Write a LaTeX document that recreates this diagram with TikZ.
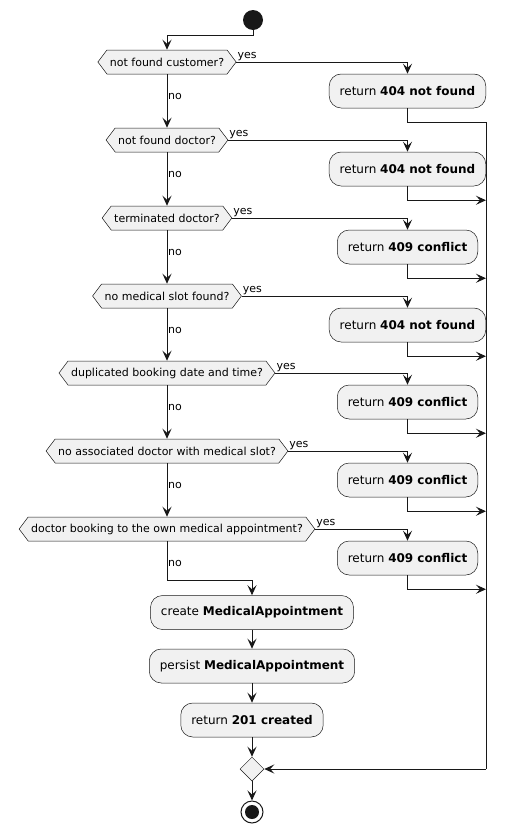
\documentclass[tikz,border=0pt]{standalone}
\usepackage{fontspec}
\setmainfont{DejaVu Sans}
\usetikzlibrary{shapes.symbols,shapes.geometric,arrows.meta}
\definecolor{fillc}{HTML}{F1F1F1}
\definecolor{linec}{HTML}{181818}
\begin{document}
\begin{tikzpicture}[x=1pt,y=-1pt,
  act/.style={draw=linec, line width=0.5pt, fill=fillc, rounded corners=12pt,
    minimum height=34pt, inner xsep=10.5pt, inner ysep=0pt,
    font=\fontsize{12}{14}\selectfont},
  hexa/.style={signal, signal to=west and east, signal pointer angle=106,
    draw=linec, line width=0.5pt, fill=fillc, minimum height=24pt,
    inner xsep=3pt, inner ysep=0pt, font=\fontsize{11}{13}\selectfont},
  flow/.style={draw=linec, line width=1pt, -{Stealth[length=10pt,width=9pt,inset=4pt]}},
  wire/.style={draw=linec, line width=1pt},
  lbl/.style={font=\fontsize{11}{13}\selectfont, inner sep=1pt, text=black}
]
\useasboundingbox (0,0) rectangle (506,833);
\coordinate (rail) at (486,0);

\node[circle, fill=linec, minimum size=20pt, inner sep=0pt] (start) at (253,20) {};

\node[hexa] (d1) at (167,62) {not found customer?};
\node[act] (b1) at (407.5,91) {return \textbf{404 not found}};
\node[hexa] (d2) at (167,140) {not found doctor?};
\node[act] (b2) at (407.5,169) {return \textbf{404 not found}};
\node[hexa] (d3) at (167,218) {terminated doctor?};
\node[act] (b3) at (407.5,247) {return \textbf{409 conflict}};
\node[hexa] (d4) at (167,296) {no medical slot found?};
\node[act] (b4) at (407.5,325) {return \textbf{404 not found}};
\node[hexa] (d5) at (167,373) {duplicated booking date and time?};
\node[act] (b5) at (407.5,402) {return \textbf{409 conflict}};
\node[hexa] (d6) at (167,451) {no associated doctor with medical slot?};
\node[act] (b6) at (407.5,480) {return \textbf{409 conflict}};
\node[hexa] (d7) at (167,529) {doctor booking to the own medical appointment?};
\node[act] (b7) at (407.5,558) {return \textbf{409 conflict}};

\node[act] (create) at (252,612.5) {create \textbf{MedicalAppointment}};
\node[act] (persist) at (252,666) {persist \textbf{MedicalAppointment}};
\node[act] (ret) at (252,720) {return \textbf{201 created}};
\node[diamond, draw=linec, line width=0.5pt, fill=fillc, minimum width=24pt,
  minimum height=24pt, inner sep=0pt] (merge) at (252,769) {};
\node[circle, draw=linec, line width=1pt, fill=white, minimum size=22pt, inner sep=0pt] (end) at (252,812) {};
\node[circle, fill=linec, minimum size=14pt, inner sep=0pt] (endin) at (end.center) {};

% start
\draw[flow] (start.south) -- ++(0,5) -| (d1.north);

% yes branches
\foreach \d/\b in {d1/b1,d2/b2,d3/b3,d4/b4,d5/b5,d6/b6,d7/b7}{
  \draw[flow] (\d.east) -| (\b.north);
  \node[lbl, anchor=south west] at (\d.east) {yes};
}

% no branches
\foreach \a/\b in {d1/d2,d2/d3,d3/d4,d4/d5,d5/d6,d6/d7}{
  \draw[flow] (\a.south) -- (\b.north);
  \path (\a.south) ++(0,22) node[lbl, right] {no};
}
\draw[flow] (d7.south) -- ++(0,39) -| (create.north);
\path (d7.south) ++(0,22) node[lbl, right] {no};

% boxes to rail
\foreach \b in {b1,b2,b3,b4,b5,b6,b7}{
  \path (\b.south) ++(0,14) coordinate (t\b);
}
\draw[wire] (b1.south) -- (tb1) -- (tb1 -| rail) -- (rail |- merge);
\foreach \b in {b2,b3,b4,b5,b6,b7}{
  \draw[flow] (\b.south) -- (t\b) -- (t\b -| rail);
}
\draw[flow] (rail |- merge) -- (merge.east);

% main column
\draw[flow] (create.south) -- (persist.north);
\draw[flow] (persist.south) -- (ret.north);
\draw[flow] (ret.south) -- (merge.north);
\draw[flow] (merge.south) -- (end.north);
\end{tikzpicture}
\end{document}
